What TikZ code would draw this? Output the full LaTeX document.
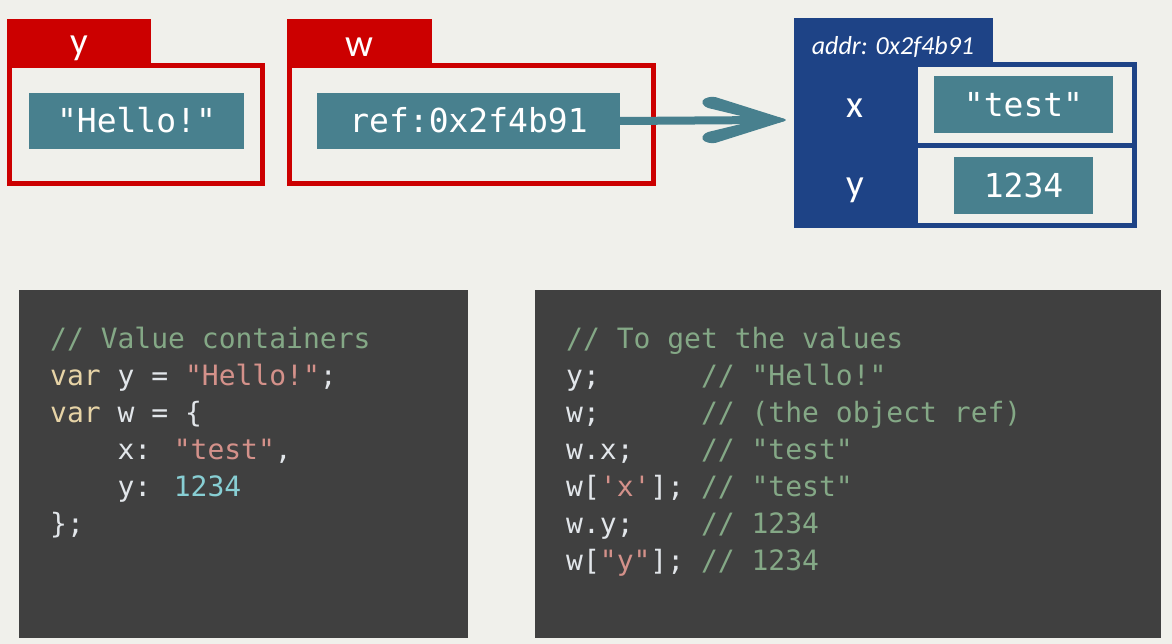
\documentclass[tikz,border=0pt]{standalone}
\usepackage{fontspec}
\usetikzlibrary{calc}
\newfontfamily\codefont{DejaVu Sans Mono}
\newfontfamily\labfont{Carlito}
\definecolor{bgc}{HTML}{F0F0EB}
\definecolor{redc}{HTML}{CC0000}
\definecolor{tealc}{HTML}{48808E}
\definecolor{bluec}{HTML}{1E4386}
\definecolor{panelc}{HTML}{404040}
\definecolor{cmtc}{HTML}{84A886}
\definecolor{kwc}{HTML}{E6D3A6}
\definecolor{idc}{HTML}{E2E6EA}
\definecolor{strc}{HTML}{D4918A}
\definecolor{numc}{HTML}{88CFD4}
\newcommand\ccmt[1]{\textcolor{cmtc}{#1}}
\newcommand\ckw[1]{\textcolor{kwc}{#1}}
\newcommand\cstr[1]{\textcolor{strc}{#1}}
\newcommand\cnum[1]{\textcolor{numc}{#1}}
\tikzset{
  valbox/.style={fill=tealc, text=white, inner sep=0pt, text height=24pt, text depth=0pt,
    font=\codefont\fontsize{33}{33}\selectfont},
  tablabel/.style={text=white, inner sep=0pt, anchor=base, font=\labfont\fontsize{39}{39}\selectfont},
  codeline/.style={anchor=base west, inner sep=0pt, text=idc, font=\codefont\fontsize{28}{37}\selectfont},
  panel/.style={fill=panelc, draw=none},
  redframe/.style={draw=redc, line width=5pt},
  blueframe/.style={draw=bluec, line width=5pt},
}
\begin{document}
\begin{tikzpicture}[x=1pt,y=-1pt]
\useasboundingbox (0,0) rectangle (1172,644);
\fill[bgc] (0,0) rectangle (1172,644);

% variable y
\fill[redc] (7,19) rectangle (151,66);
\draw[redframe] (9.5,65.5) rectangle (262.5,183.5);
\node[tablabel] (ylab) at (79,55) {y};
\node[valbox, minimum width=215pt, minimum height=56pt] (hello) at (136.5,121) {"Hello!"};

% variable w
\fill[redc] (287,19) rectangle (432,66);
\draw[redframe] (289.5,65.5) rectangle (653.5,183.5);
\node[tablabel] (wlab) at (359.5,57) {w};
\node[valbox, minimum width=303pt, minimum height=56pt] (ref) at (468.5,121) {ref:0x2f4b91};

% object
\fill[bluec] (794,18) rectangle (993,64);
\fill[bluec] (794,18) rectangle (914,228);
\node[anchor=base, inner sep=0pt, text=white, font=\labfont\itshape\fontsize{26}{26}\selectfont] (addr) at (893,55) {addr: 0x2f4b91};
\draw[blueframe] (915.5,64.5) rectangle (1134.5,225.5);
\draw[blueframe] (913,145.5) -- (1137,145.5);
\node[tablabel] (xkey) at (855,118) {x};
\node[tablabel] (ykey) at (855,197) {y};
\node[valbox, minimum width=179pt, minimum height=57pt] (test) at (1023.5,104.5) {"test"};
\node[valbox, minimum width=139pt, minimum height=57pt] (num) at (1023.5,185.5) {1234};
\coordinate (obj) at (794,120);

% arrow
\coordinate (tip) at ($(obj)+(-6,0)$);
\draw[tealc, line width=8pt] (ref.east) -- ($(tip)+(-18,0)$);
\fill[tealc, rounded corners=4pt] (tip) -- ($(tip)+(-76,-24)$) -- ($(tip)+(-87,-20)$) -- ($(tip)+(-84,-13)$) -- ($(tip)+(-14,4)$) -- cycle;
\fill[tealc, rounded corners=4pt] (tip) -- ($(tip)+(-76,24)$) -- ($(tip)+(-87,20)$) -- ($(tip)+(-84,13)$) -- ($(tip)+(-14,-4)$) -- cycle;

% code panels
\fill[panel] (19,290) rectangle (468,638);
\fill[panel] (535,290) rectangle (1161,638);

\node[codeline] (l1) at (50,348) {\ccmt{// Value containers}};
\node[codeline] (l2) at (50,385) {\ckw{var} y = \cstr{"Hello!"};};
\node[codeline] (l3) at (50,422) {\ckw{var} w = \{};
\node[codeline] (l4) at (50,459) {~~~~x: \cstr{"test"},};
\node[codeline] (l5) at (50,496) {~~~~y: \cnum{1234}};
\node[codeline] (l6) at (50,533) {\};};

\node[codeline] (r1) at (566,348) {\ccmt{// To get the values}};
\node[codeline] (r2) at (566,385) {y;~~~~~~\ccmt{// "Hello!"}};
\node[codeline] (r3) at (566,422) {w;~~~~~~\ccmt{// (the object ref)}};
\node[codeline] (r4) at (566,459) {w.x;~~~~\ccmt{// "test"}};
\node[codeline] (r5) at (566,496) {w[\cstr{\textquotesingle x\textquotesingle}];~\ccmt{// "test"}};
\node[codeline] (r6) at (566,533) {w.y;~~~~\ccmt{// 1234}};
\node[codeline] (r7) at (566,570) {w[\cstr{"y"}];~\ccmt{// 1234}};
\end{tikzpicture}
\end{document}
